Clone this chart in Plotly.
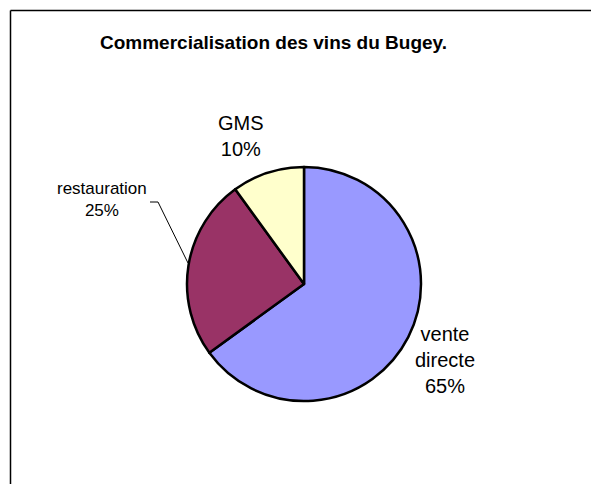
import plotly.graph_objects as go

# données
labels = ["vente directe", "restauration", "GMS"]
values = [65, 25, 10]
couleurs = ["#9999FF", "#993366", "#FFFFCC"]

W, H = 591, 484


def px(x, y):
    """pixels de l'image -> coordonnées papier"""
    return x / W, 1 - y / H


cx0, cy0 = px(304 - 117, 284 + 117)
cx1, cy1 = px(304 + 117, 284 - 117)

fig = go.Figure(
    go.Pie(
        labels=labels,
        values=values,
        sort=False,
        direction="clockwise",
        rotation=0,
        marker=dict(colors=couleurs, line=dict(color="black", width=2.5)),
        textinfo="none",
        hoverinfo="label+percent",
        domain=dict(x=[cx0, cx1], y=[cy0, cy1]),
    )
)

# étiquettes (placées comme dans l'original)
pos_labels = {
    "vente directe": ((445, 360), "vente<br>directe<br>{}%", 20),
    "restauration": ((102, 200), "restauration<br>{}%", 17),
    "GMS": ((241, 136), "GMS<br>{}%", 20),
}
annotations = []
for lab, val in zip(labels, values):
    (x, y), fmt, size = pos_labels[lab]
    ax, ay = px(x, y)
    annotations.append(dict(
        x=ax, y=ay, xref="paper", yref="paper",
        text=fmt.format(val), showarrow=False,
        font=dict(size=size, color="black", family="Liberation Sans, Arial"),
        xanchor="center", yanchor="middle",
    ))

tx, ty = px(273, 43)
annotations.append(dict(
    x=tx, y=ty, xref="paper", yref="paper",
    text="<b>Commercialisation des vins du Bugey.</b>", showarrow=False,
    font=dict(size=19, color="black", family="Liberation Sans, Arial"),
    xanchor="center", yanchor="middle",
))

# ligne de rappel pour "restauration"
p1 = px(150, 202)
p2 = px(158, 202)
p3 = px(188, 263)
b0 = px(10.5, 10.5)
shapes = [
    dict(type="line", xref="paper", yref="paper", x0=p1[0], y0=p1[1], x1=p2[0], y1=p2[1],
         line=dict(color="black", width=1)),
    dict(type="line", xref="paper", yref="paper", x0=p2[0], y0=p2[1], x1=p3[0], y1=p3[1],
         line=dict(color="black", width=1)),
    # cadre du graphique : seuls les bords haut et gauche sont visibles
    dict(type="line", xref="paper", yref="paper", x0=b0[0], y0=b0[1], x1=1, y1=b0[1],
         line=dict(color="black", width=1.5)),
    dict(type="line", xref="paper", yref="paper", x0=b0[0], y0=b0[1], x1=b0[0], y1=0,
         line=dict(color="black", width=1.5)),
]

fig.update_layout(
    width=W,
    height=H,
    margin=dict(l=0, r=0, t=0, b=0),
    paper_bgcolor="white",
    plot_bgcolor="white",
    showlegend=False,
    annotations=annotations,
    shapes=shapes,
)

# pas de marge ni de barre de défilement autour du graphique
fig.write_html(
    "out.html",
    config={"displayModeBar": False},
    post_script="document.body.style.margin='0px'; document.body.style.overflow='hidden';",
)
